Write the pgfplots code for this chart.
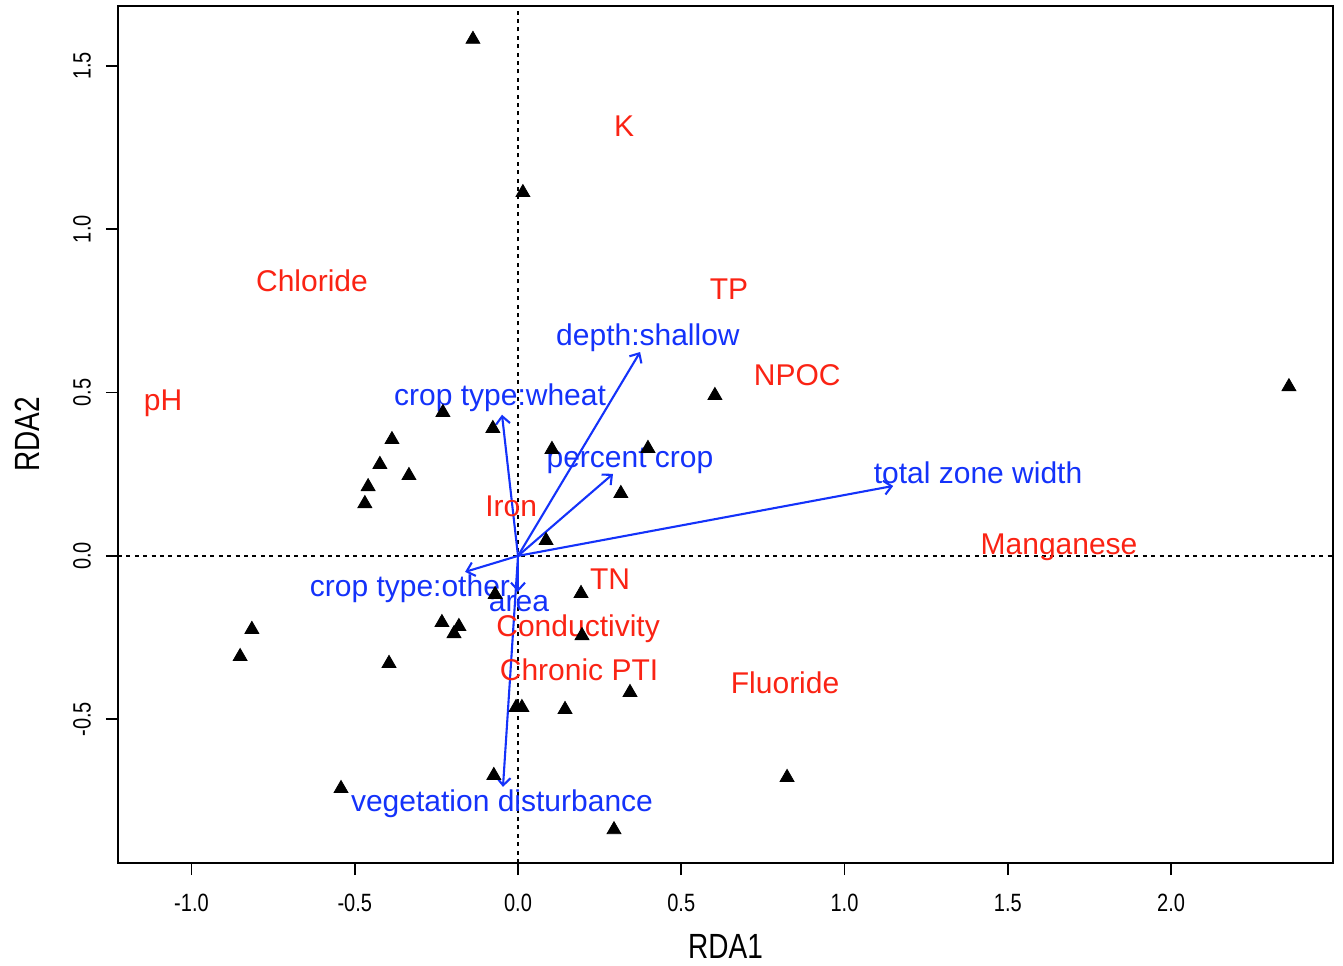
\documentclass[border=0pt]{standalone}
\usepackage{pgfplots}
\pgfplotsset{compat=1.18}
\usepackage{fontspec}
\setmainfont{Liberation Sans}
\newfontfamily\narrowfont[FakeStretch=0.8]{Liberation Sans}
\usetikzlibrary{arrows.meta}
\definecolor{rred}{RGB}{250,35,20}
\definecolor{rblue}{RGB}{20,50,250}
\begin{document}
\begin{tikzpicture}
\begin{axis}[name=ax, scale only axis, width=607.5pt, height=428.5pt,
  xmin=-1.225, xmax=2.496, ymin=-0.940, ymax=1.683,
  axis line style={line width=1pt},
  xtick={-1,-0.5,0,0.5,1,1.5,2}, ytick={-0.5,0,0.5,1,1.5},
  tick pos=left, tick align=outside, major tick length=6pt,
  tick style={black, line width=0.8pt},
  xticklabel style={font=\narrowfont\fontsize{12.5}{14}\selectfont, anchor=north, yshift=-6pt},
  yticklabel style={font=\narrowfont\fontsize{12.5}{14}\selectfont, rotate=90, anchor=south, yshift=4pt},
  /pgf/number format/.cd, fixed, fixed zerofill, precision=1, assume math mode=true,
  /tikz/.cd,
  clip=false,
  myarrow/.style={rblue, no markers, solid, line width=1.05pt, -{Straight Barb[length=3.8pt,width=7pt]}}]
\addplot[black, no markers, line width=1.2pt, dash pattern=on 2pt off 2.2pt] coordinates {(0,-0.940) (0,1.683)};
\addplot[black, no markers, line width=1.2pt, dash pattern=on 2pt off 2.2pt] coordinates {(-1.225,0) (2.496,0)};
\addplot[only marks, mark=triangle*, mark size=4pt, black] coordinates {
(-0.138,1.581) (0.015,1.112) (2.361,0.518) (0.603,0.491) (-0.230,0.439)
(-0.077,0.390) (-0.386,0.356) (0.104,0.326) (0.398,0.329) (-0.423,0.280)
(-0.334,0.246) (-0.459,0.212) (-0.469,0.160) (0.315,0.191) (0.086,0.047)
(-0.070,-0.118) (0.193,-0.115) (-0.233,-0.204) (-0.181,-0.216) (-0.196,-0.238)
(0.196,-0.244) (-0.815,-0.225) (-0.851,-0.308) (-0.395,-0.329) (0.343,-0.418)
(-0.006,-0.464) (0.012,-0.464) (0.144,-0.470) (-0.074,-0.672) (-0.542,-0.712)
(0.824,-0.678) (0.294,-0.838)};
\addplot[myarrow] coordinates {(0,0) (0.374,0.624)};
\addplot[myarrow] coordinates {(0,0) (-0.049,0.432)};
\addplot[myarrow] coordinates {(0,0) (0.291,0.251)};
\addplot[myarrow] coordinates {(0,0) (1.149,0.214)};
\addplot[myarrow] coordinates {(0,0) (-0.162,-0.049)};
\addplot[myarrow] coordinates {(0,0) (0.0,-0.110)};
\addplot[myarrow] coordinates {(0,0) (-0.046,-0.707)};
\begin{scope}[every node/.style={font=\fontsize{15}{17}\selectfont, anchor=base, inner sep=0pt}]
\node[rred] at (axis cs:0.325,1.283) {K};
\node[rred] at (axis cs:-0.631,0.808) {Chloride};
\node[rred] at (axis cs:0.646,0.784) {TP};
\node[rred] at (axis cs:0.855,0.523) {NPOC};
\node[rred] at (axis cs:-1.087,0.444) {pH};
\node[rred] at (axis cs:-0.021,0.122) {Iron};
\node[rred] at (axis cs:1.657,0.003) {Manganese};
\node[rred] at (axis cs:0.282,-0.104) {TN};
\node[rred] at (axis cs:0.184,-0.248) {Conductivity};
\node[rred] at (axis cs:0.187,-0.380) {Chronic PTI};
\node[rred] at (axis cs:0.818,-0.422) {Fluoride};
\node[rblue] at (axis cs:0.398,0.643) {depth:shallow};
\node[rblue] at (axis cs:-0.055,0.459) {crop type:wheat};
\node[rblue] at (axis cs:0.343,0.272) {percent crop};
\node[rblue] at (axis cs:1.409,0.223) {total zone width};
\node[rblue] at (axis cs:-0.331,-0.125) {crop type:other};
\node[rblue] at (axis cs:0.003,-0.171) {area};
\node[rblue] at (axis cs:-0.049,-0.781) {vegetation disturbance};
\end{scope}
\end{axis}
\node[font=\narrowfont\fontsize{17.5}{19}\selectfont] at ([yshift=-41.5pt]ax.south) {RDA1};
\node[font=\narrowfont\fontsize{17.5}{19}\selectfont, rotate=90] at ([xshift=-45.5pt]ax.west) {RDA2};
\pgfresetboundingbox
\path[use as bounding box] ([shift={(-59pt,-51pt)}]ax.south west) rectangle ([shift={(5pt,3pt)}]ax.north east);
\end{tikzpicture}
\end{document}
